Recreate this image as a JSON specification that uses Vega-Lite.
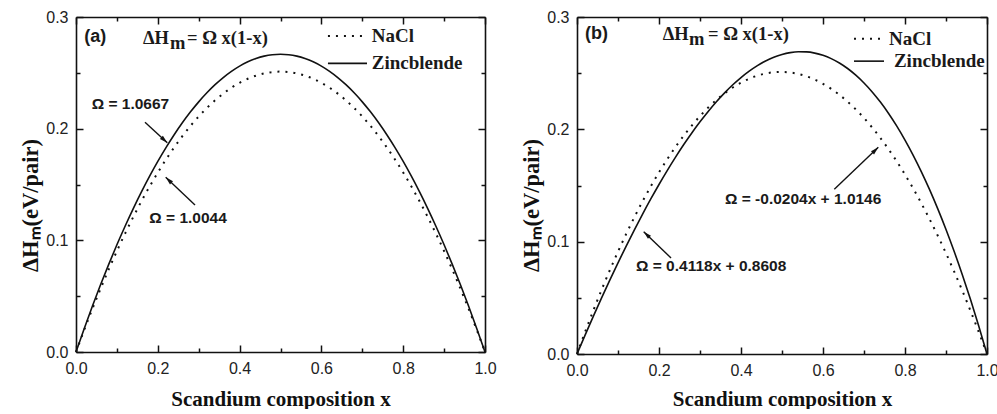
{
  "$schema": "https://vega.github.io/schema/vega-lite/v6.json",
  "background": "white",
  "padding": {"left": 19, "top": 9, "right": 0, "bottom": 0},
  "spacing": 23,
  "datasets": {
    "curvesA": [
      {"x": 0, "zb": 0, "nacl": 0},
      {"x": 0.02, "zb": 0.02091, "nacl": 0.01969},
      {"x": 0.04, "zb": 0.04096, "nacl": 0.03857},
      {"x": 0.06, "zb": 0.06016, "nacl": 0.05665},
      {"x": 0.08, "zb": 0.07851, "nacl": 0.07392},
      {"x": 0.1, "zb": 0.096, "nacl": 0.0904},
      {"x": 0.12, "zb": 0.11264, "nacl": 0.10606},
      {"x": 0.14, "zb": 0.12843, "nacl": 0.12093},
      {"x": 0.16, "zb": 0.14336, "nacl": 0.13499},
      {"x": 0.18, "zb": 0.15744, "nacl": 0.14825},
      {"x": 0.2, "zb": 0.17067, "nacl": 0.1607},
      {"x": 0.22, "zb": 0.18305, "nacl": 0.17235},
      {"x": 0.24, "zb": 0.19457, "nacl": 0.1832},
      {"x": 0.26, "zb": 0.20523, "nacl": 0.19325},
      {"x": 0.28, "zb": 0.21505, "nacl": 0.20249},
      {"x": 0.3, "zb": 0.22401, "nacl": 0.21092},
      {"x": 0.32, "zb": 0.23211, "nacl": 0.21856},
      {"x": 0.34, "zb": 0.23937, "nacl": 0.22539},
      {"x": 0.36, "zb": 0.24577, "nacl": 0.23141},
      {"x": 0.38, "zb": 0.25131, "nacl": 0.23664},
      {"x": 0.4, "zb": 0.25601, "nacl": 0.24106},
      {"x": 0.42, "zb": 0.25985, "nacl": 0.24467},
      {"x": 0.44, "zb": 0.26283, "nacl": 0.24748},
      {"x": 0.46, "zb": 0.26497, "nacl": 0.24949},
      {"x": 0.48, "zb": 0.26625, "nacl": 0.2507},
      {"x": 0.5, "zb": 0.26668, "nacl": 0.2511},
      {"x": 0.52, "zb": 0.26625, "nacl": 0.2507},
      {"x": 0.54, "zb": 0.26497, "nacl": 0.24949},
      {"x": 0.56, "zb": 0.26283, "nacl": 0.24748},
      {"x": 0.58, "zb": 0.25985, "nacl": 0.24467},
      {"x": 0.6, "zb": 0.25601, "nacl": 0.24106},
      {"x": 0.62, "zb": 0.25131, "nacl": 0.23664},
      {"x": 0.64, "zb": 0.24577, "nacl": 0.23141},
      {"x": 0.66, "zb": 0.23937, "nacl": 0.22539},
      {"x": 0.68, "zb": 0.23211, "nacl": 0.21856},
      {"x": 0.7, "zb": 0.22401, "nacl": 0.21092},
      {"x": 0.72, "zb": 0.21505, "nacl": 0.20249},
      {"x": 0.74, "zb": 0.20523, "nacl": 0.19325},
      {"x": 0.76, "zb": 0.19457, "nacl": 0.1832},
      {"x": 0.78, "zb": 0.18305, "nacl": 0.17235},
      {"x": 0.8, "zb": 0.17067, "nacl": 0.1607},
      {"x": 0.82, "zb": 0.15744, "nacl": 0.14825},
      {"x": 0.84, "zb": 0.14336, "nacl": 0.13499},
      {"x": 0.86, "zb": 0.12843, "nacl": 0.12093},
      {"x": 0.88, "zb": 0.11264, "nacl": 0.10606},
      {"x": 0.9, "zb": 0.096, "nacl": 0.0904},
      {"x": 0.92, "zb": 0.07851, "nacl": 0.07392},
      {"x": 0.94, "zb": 0.06016, "nacl": 0.05665},
      {"x": 0.96, "zb": 0.04096, "nacl": 0.03857},
      {"x": 0.98, "zb": 0.02091, "nacl": 0.01969},
      {"x": 1, "zb": 0, "nacl": 0}
    ],
    "curvesB": [
      {"x": 0, "zb": 0, "nacl": 0},
      {"x": 0.02, "zb": 0.01701, "nacl": 0.01988},
      {"x": 0.04, "zb": 0.03369, "nacl": 0.03893},
      {"x": 0.06, "zb": 0.04994, "nacl": 0.05715},
      {"x": 0.08, "zb": 0.06578, "nacl": 0.07455},
      {"x": 0.1, "zb": 0.08118, "nacl": 0.09113},
      {"x": 0.12, "zb": 0.09612, "nacl": 0.10688},
      {"x": 0.14, "zb": 0.11058, "nacl": 0.12181},
      {"x": 0.16, "zb": 0.12455, "nacl": 0.13592},
      {"x": 0.18, "zb": 0.138, "nacl": 0.14921},
      {"x": 0.2, "zb": 0.15091, "nacl": 0.16168},
      {"x": 0.22, "zb": 0.16326, "nacl": 0.17334},
      {"x": 0.24, "zb": 0.17504, "nacl": 0.18417},
      {"x": 0.26, "zb": 0.18622, "nacl": 0.19419},
      {"x": 0.28, "zb": 0.19678, "nacl": 0.20339},
      {"x": 0.3, "zb": 0.20671, "nacl": 0.21178},
      {"x": 0.32, "zb": 0.21598, "nacl": 0.21936},
      {"x": 0.34, "zb": 0.22458, "nacl": 0.22612},
      {"x": 0.36, "zb": 0.23248, "nacl": 0.23207},
      {"x": 0.38, "zb": 0.23967, "nacl": 0.23721},
      {"x": 0.4, "zb": 0.24612, "nacl": 0.24155},
      {"x": 0.42, "zb": 0.25182, "nacl": 0.24507},
      {"x": 0.44, "zb": 0.25675, "nacl": 0.24779},
      {"x": 0.46, "zb": 0.26088, "nacl": 0.2497},
      {"x": 0.48, "zb": 0.26419, "nacl": 0.2508},
      {"x": 0.5, "zb": 0.26668, "nacl": 0.2511},
      {"x": 0.52, "zb": 0.2683, "nacl": 0.2506},
      {"x": 0.54, "zb": 0.26906, "nacl": 0.24929},
      {"x": 0.56, "zb": 0.26892, "nacl": 0.24718},
      {"x": 0.58, "zb": 0.26787, "nacl": 0.24427},
      {"x": 0.6, "zb": 0.26589, "nacl": 0.24057},
      {"x": 0.62, "zb": 0.26296, "nacl": 0.23606},
      {"x": 0.64, "zb": 0.25905, "nacl": 0.23076},
      {"x": 0.66, "zb": 0.25415, "nacl": 0.22465},
      {"x": 0.68, "zb": 0.24824, "nacl": 0.21776},
      {"x": 0.7, "zb": 0.2413, "nacl": 0.21007},
      {"x": 0.72, "zb": 0.23331, "nacl": 0.20158},
      {"x": 0.74, "zb": 0.22425, "nacl": 0.1923},
      {"x": 0.76, "zb": 0.2141, "nacl": 0.18224},
      {"x": 0.78, "zb": 0.20283, "nacl": 0.17137},
      {"x": 0.8, "zb": 0.19044, "nacl": 0.15972},
      {"x": 0.82, "zb": 0.1769, "nacl": 0.14729},
      {"x": 0.84, "zb": 0.16218, "nacl": 0.13406},
      {"x": 0.86, "zb": 0.14628, "nacl": 0.12005},
      {"x": 0.88, "zb": 0.12917, "nacl": 0.10525},
      {"x": 0.9, "zb": 0.11083, "nacl": 0.08966},
      {"x": 0.92, "zb": 0.09124, "nacl": 0.07329},
      {"x": 0.94, "zb": 0.07038, "nacl": 0.05614},
      {"x": 0.96, "zb": 0.04824, "nacl": 0.03821},
      {"x": 0.98, "zb": 0.02478, "nacl": 0.01949},
      {"x": 1, "zb": 0, "nacl": 0}
    ]
  },
  "hconcat": [
    {
      "width": 409,
      "height": 335,
      "resolve": {"axis": {"x": "independent", "y": "independent"}},
      "layer": [
        {
          "data": {"name": "curvesA"},
          "mark": {"type": "line", "color": "#111", "strokeWidth": 1.6, "interpolate": "monotone"},
          "encoding": {
            "x": {"field": "x", "type": "quantitative", "scale": {"domain": [0, 1], "nice": false},
              "axis": {"orient": "bottom", "values": [0, 0.1, 0.2, 0.3, 0.4, 0.5, 0.6, 0.7, 0.8, 0.9, 1],
                "labelExpr": "abs(datum.value*5 - round(datum.value*5)) < 0.001 ? format(datum.value, '.1f') : ''",
                "tickSize": {"condition": {"test": "abs(datum.value*5 - round(datum.value*5)) < 0.001", "value": -7}, "value": -4},
                "labelPadding": 15, "title": "Scandium composition x", "titleFontSize": 21, "titlePadding": 9}},
            "y": {"field": "zb", "type": "quantitative", "scale": {"domain": [0, 0.3], "nice": false},
              "axis": {"orient": "left", "values": [0, 0.05, 0.1, 0.15, 0.2, 0.25, 0.3],
                "labelExpr": "abs(datum.value*10 - round(datum.value*10)) < 0.001 ? format(datum.value, '.1f') : ''",
                "tickSize": {"condition": {"test": "abs(datum.value*10 - round(datum.value*10)) < 0.001", "value": -7}, "value": -4},
                "labelPadding": 15, "title": "ΔHₘ(eV/pair)", "titleFontSize": 22.5, "titlePadding": 3, "titleY": 188}}
          }
        },
        {
          "data": {"name": "curvesA"},
          "mark": {"type": "line", "color": "#111", "strokeWidth": 2, "strokeDash": [2, 6], "interpolate": "monotone"},
          "encoding": {
            "x": {"field": "x", "type": "quantitative",
              "axis": {"orient": "top", "values": [0, 0.1, 0.2, 0.3, 0.4, 0.5, 0.6, 0.7, 0.8, 0.9, 1], "labels": false, "title": null,
                "tickSize": {"condition": {"test": "abs(datum.value*5 - round(datum.value*5)) < 0.001", "value": -7}, "value": -4}}},
            "y": {"field": "nacl", "type": "quantitative",
              "axis": {"orient": "right", "values": [0, 0.05, 0.1, 0.15, 0.2, 0.25, 0.3], "labels": false, "title": null,
                "tickSize": {"condition": {"test": "abs(datum.value*10 - round(datum.value*10)) < 0.001", "value": -7}, "value": -4}}}
          }
        },
        {
          "data": {"values": [{"x": 0.02, "y": 0.282, "text": "(a)"}]},
          "mark": {"type": "text", "font": "Liberation Sans", "fontWeight": "bold", "fontSize": 18, "align": "left", "baseline": "middle", "color": "#1a1a1a"},
          "encoding": {"x": {"field": "x", "type": "quantitative", "axis": null}, "y": {"field": "y", "type": "quantitative", "axis": null}, "text": {"field": "text"}}
        },
        {
          "data": {"values": [{"x": 0.1638, "y": 0.2755, "text": "ΔH"}, {"x": 0.2714, "y": 0.2755, "text": "= Ω x(1-x)"}]},
          "mark": {"type": "text", "font": "Liberation Serif", "fontWeight": "bold", "fontSize": 18.5, "align": "left", "baseline": "alphabetic", "color": "#1a1a1a"},
          "encoding": {"x": {"field": "x", "type": "quantitative", "axis": null}, "y": {"field": "y", "type": "quantitative", "axis": null}, "text": {"field": "text"}}
        },
        {
          "data": {"values": [{"x": 0.2298, "y": 0.2755, "text": "m"}]},
          "mark": {"type": "text", "font": "Liberation Serif", "fontWeight": "bold", "fontSize": 18.5, "align": "left", "baseline": "alphabetic", "dy": 5, "color": "#1a1a1a"},
          "encoding": {"x": {"field": "x", "type": "quantitative", "axis": null}, "y": {"field": "y", "type": "quantitative", "axis": null}, "text": {"field": "text"}}
        },
        {
          "data": {"values": [{"x": 0.0384, "y": 0.2221, "text": "Ω = 1.0667"}, {"x": 0.1792, "y": 0.1203, "text": "Ω = 1.0044"}]},
          "mark": {"type": "text", "font": "Liberation Sans", "fontWeight": "bold", "fontSize": 15.5, "align": "left", "baseline": "middle", "color": "#1a1a1a"},
          "encoding": {"x": {"field": "x", "type": "quantitative", "axis": null}, "y": {"field": "y", "type": "quantitative", "axis": null}, "text": {"field": "text"}}
        },
        {
          "data": {"values": [{"x": 0.1687, "y": 0.2057, "x2": 0.2232, "y2": 0.1874}, {"x": 0.291, "y": 0.1316, "x2": 0.2193, "y2": 0.1564}]},
          "mark": {"type": "rule", "color": "#111", "strokeWidth": 1.4},
          "encoding": {"x": {"field": "x", "type": "quantitative", "axis": null}, "y": {"field": "y", "type": "quantitative", "axis": null}, "x2": {"field": "x2"}, "y2": {"field": "y2"}}
        },
        {
          "data": {"values": [{"x": 0.2232, "y": 0.1874}]},
          "mark": {"type": "point", "shape": "M0,0L-2,-0.55L-2,0.55Z", "size": 64, "angle": 42.5, "filled": true, "opacity": 1, "color": "#111"},
          "encoding": {"x": {"field": "x", "type": "quantitative", "axis": null}, "y": {"field": "y", "type": "quantitative", "axis": null}}
        },
        {
          "data": {"values": [{"x": 0.2193, "y": 0.1564}]},
          "mark": {"type": "point", "shape": "M0,0L-2,-0.55L-2,0.55Z", "size": 64, "angle": 223.4, "filled": true, "opacity": 1, "color": "#111"},
          "encoding": {"x": {"field": "x", "type": "quantitative", "axis": null}, "y": {"field": "y", "type": "quantitative", "axis": null}}
        },
        {
          "data": {"values": [{"x": 0.616, "x2": 0.7115, "y": 0.283}]},
          "mark": {"type": "rule", "color": "#111", "strokeWidth": 2, "strokeDash": [2, 6]},
          "encoding": {"x": {"field": "x", "type": "quantitative", "axis": null}, "x2": {"field": "x2"}, "y": {"field": "y", "type": "quantitative", "axis": null}}
        },
        {
          "data": {"values": [{"x": 0.616, "x2": 0.7115, "y": 0.2585}]},
          "mark": {"type": "rule", "color": "#111", "strokeWidth": 1.6},
          "encoding": {"x": {"field": "x", "type": "quantitative", "axis": null}, "x2": {"field": "x2"}, "y": {"field": "y", "type": "quantitative", "axis": null}}
        },
        {
          "data": {"values": [{"x": 0.723, "y": 0.283, "text": "NaCl"}, {"x": 0.723, "y": 0.2585, "text": "Zincblende"}]},
          "mark": {"type": "text", "font": "Liberation Serif", "fontWeight": "bold", "fontSize": 19, "align": "left", "baseline": "middle", "color": "#1a1a1a"},
          "encoding": {"x": {"field": "x", "type": "quantitative", "axis": null}, "y": {"field": "y", "type": "quantitative", "axis": null}, "text": {"field": "text"}}
        }
      ]
    },
    {
      "width": 410,
      "height": 337,
      "resolve": {"axis": {"x": "independent", "y": "independent"}},
      "layer": [
        {
          "data": {"name": "curvesB"},
          "mark": {"type": "line", "color": "#111", "strokeWidth": 1.6, "interpolate": "monotone"},
          "encoding": {
            "x": {"field": "x", "type": "quantitative", "scale": {"domain": [0, 1], "nice": false},
              "axis": {"orient": "bottom", "values": [0, 0.1, 0.2, 0.3, 0.4, 0.5, 0.6, 0.7, 0.8, 0.9, 1],
                "labelExpr": "abs(datum.value*5 - round(datum.value*5)) < 0.001 ? format(datum.value, '.1f') : ''",
                "tickSize": {"condition": {"test": "abs(datum.value*5 - round(datum.value*5)) < 0.001", "value": -7}, "value": -4},
                "labelPadding": 15, "title": "Scandium composition x", "titleFontSize": 21, "titlePadding": 7}},
            "y": {"field": "zb", "type": "quantitative", "scale": {"domain": [0, 0.3], "nice": false},
              "axis": {"orient": "left", "values": [0, 0.05, 0.1, 0.15, 0.2, 0.25, 0.3],
                "labelExpr": "abs(datum.value*10 - round(datum.value*10)) < 0.001 ? format(datum.value, '.1f') : ''",
                "tickSize": {"condition": {"test": "abs(datum.value*10 - round(datum.value*10)) < 0.001", "value": -7}, "value": -4},
                "labelPadding": 15, "title": "ΔHₘ(eV/pair)", "titleFontSize": 22.5, "titlePadding": 3, "titleY": 188}}
          }
        },
        {
          "data": {"name": "curvesB"},
          "mark": {"type": "line", "color": "#111", "strokeWidth": 2, "strokeDash": [2, 6], "interpolate": "monotone"},
          "encoding": {
            "x": {"field": "x", "type": "quantitative",
              "axis": {"orient": "top", "values": [0, 0.1, 0.2, 0.3, 0.4, 0.5, 0.6, 0.7, 0.8, 0.9, 1], "labels": false, "title": null,
                "tickSize": {"condition": {"test": "abs(datum.value*5 - round(datum.value*5)) < 0.001", "value": -7}, "value": -4}}},
            "y": {"field": "nacl", "type": "quantitative",
              "axis": {"orient": "right", "values": [0, 0.05, 0.1, 0.15, 0.2, 0.25, 0.3], "labels": false, "title": null,
                "tickSize": {"condition": {"test": "abs(datum.value*10 - round(datum.value*10)) < 0.001", "value": -7}, "value": -4}}}
          }
        },
        {
          "data": {"values": [{"x": 0.0195, "y": 0.2849, "text": "(b)"}]},
          "mark": {"type": "text", "font": "Liberation Sans", "fontWeight": "bold", "fontSize": 18, "align": "left", "baseline": "middle", "color": "#1a1a1a"},
          "encoding": {"x": {"field": "x", "type": "quantitative", "axis": null}, "y": {"field": "y", "type": "quantitative", "axis": null}, "text": {"field": "text"}}
        },
        {
          "data": {"values": [{"x": 0.209, "y": 0.2798, "text": "ΔH"}, {"x": 0.3195, "y": 0.2798, "text": "= Ω x(1-x)"}]},
          "mark": {"type": "text", "font": "Liberation Serif", "fontWeight": "bold", "fontSize": 18.5, "align": "left", "baseline": "alphabetic", "color": "#1a1a1a"},
          "encoding": {"x": {"field": "x", "type": "quantitative", "axis": null}, "y": {"field": "y", "type": "quantitative", "axis": null}, "text": {"field": "text"}}
        },
        {
          "data": {"values": [{"x": 0.273, "y": 0.2798, "text": "m"}]},
          "mark": {"type": "text", "font": "Liberation Serif", "fontWeight": "bold", "fontSize": 18.5, "align": "left", "baseline": "alphabetic", "dy": 5, "color": "#1a1a1a"},
          "encoding": {"x": {"field": "x", "type": "quantitative", "axis": null}, "y": {"field": "y", "type": "quantitative", "axis": null}, "text": {"field": "text"}}
        },
        {
          "data": {"values": [{"x": 0.361, "y": 0.1378, "text": "Ω = -0.0204x + 1.0146"}, {"x": 0.1439, "y": 0.0787, "text": "Ω = 0.4118x + 0.8608"}]},
          "mark": {"type": "text", "font": "Liberation Sans", "fontWeight": "bold", "fontSize": 15.5, "align": "left", "baseline": "middle", "color": "#1a1a1a"},
          "encoding": {"x": {"field": "x", "type": "quantitative", "axis": null}, "y": {"field": "y", "type": "quantitative", "axis": null}, "text": {"field": "text"}}
        },
        {
          "data": {"values": [{"x": 0.6276, "y": 0.1467, "x2": 0.7349, "y2": 0.184}, {"x": 0.2293, "y": 0.0855, "x2": 0.1627, "y2": 0.1089}]},
          "mark": {"type": "rule", "color": "#111", "strokeWidth": 1.4},
          "encoding": {"x": {"field": "x", "type": "quantitative", "axis": null}, "y": {"field": "y", "type": "quantitative", "axis": null}, "x2": {"field": "x2"}, "y2": {"field": "y2"}}
        },
        {
          "data": {"values": [{"x": 0.7349, "y": 0.184}]},
          "mark": {"type": "point", "shape": "M0,0L-2,-0.55L-2,0.55Z", "size": 64, "angle": 316.3, "filled": true, "opacity": 1, "color": "#111"},
          "encoding": {"x": {"field": "x", "type": "quantitative", "axis": null}, "y": {"field": "y", "type": "quantitative", "axis": null}}
        },
        {
          "data": {"values": [{"x": 0.1627, "y": 0.1089}]},
          "mark": {"type": "point", "shape": "M0,0L-2,-0.55L-2,0.55Z", "size": 64, "angle": 224, "filled": true, "opacity": 1, "color": "#111"},
          "encoding": {"x": {"field": "x", "type": "quantitative", "axis": null}, "y": {"field": "y", "type": "quantitative", "axis": null}}
        },
        {
          "data": {"values": [{"x": 0.6756, "x2": 0.7488, "y": 0.2807}]},
          "mark": {"type": "rule", "color": "#111", "strokeWidth": 2, "strokeDash": [2, 6]},
          "encoding": {"x": {"field": "x", "type": "quantitative", "axis": null}, "x2": {"field": "x2"}, "y": {"field": "y", "type": "quantitative", "axis": null}}
        },
        {
          "data": {"values": [{"x": 0.6756, "x2": 0.7488, "y": 0.2607}]},
          "mark": {"type": "rule", "color": "#111", "strokeWidth": 1.6},
          "encoding": {"x": {"field": "x", "type": "quantitative", "axis": null}, "x2": {"field": "x2"}, "y": {"field": "y", "type": "quantitative", "axis": null}}
        },
        {
          "data": {"values": [{"x": 0.761, "y": 0.2807, "text": "NaCl"}, {"x": 0.773, "y": 0.2607, "text": "Zincblende"}]},
          "mark": {"type": "text", "font": "Liberation Serif", "fontWeight": "bold", "fontSize": 19, "align": "left", "baseline": "middle", "color": "#1a1a1a"},
          "encoding": {"x": {"field": "x", "type": "quantitative", "axis": null}, "y": {"field": "y", "type": "quantitative", "axis": null}, "text": {"field": "text"}}
        }
      ]
    }
  ],
  "config": {
    "view": {"stroke": null},
    "axis": {
      "grid": false,
      "domainColor": "#111",
      "domainWidth": 1.6,
      "tickColor": "#111",
      "tickWidth": 1.5,
      "labelFont": "Liberation Sans",
      "labelFontSize": 16,
      "labelColor": "#222",
      "labelFlush": false,
      "labelOverlap": false,
      "titleFont": "Liberation Serif",
      "titleFontWeight": "bold",
      "titleColor": "#111"
    }
  }
}
